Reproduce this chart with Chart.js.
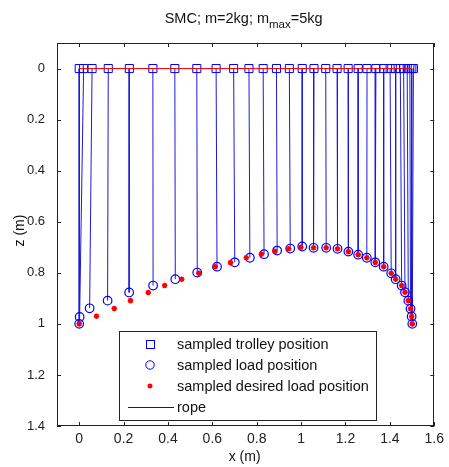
<!DOCTYPE html>
<html><head><meta charset="utf-8">
<script src="https://cdn.jsdelivr.net/npm/chart.js@4.4.1/dist/chart.umd.min.js"></script>
<style>html,body{margin:0;padding:0;background:#fff;}canvas{display:block;}</style>
</head><body>
<canvas id="c" width="449" height="467"></canvas>
<script>
// ---- data ----
const trolleyX = [0, 0.02, 0.058, 0.131, 0.226, 0.332, 0.431, 0.530, 0.617, 0.696, 0.765, 0.829, 0.889, 0.947, 1.005, 1.058, 1.111, 1.162, 1.212, 1.257, 1.297, 1.337, 1.372, 1.401, 1.426, 1.447, 1.462, 1.478, 1.490, 1.499, 1.506];
const loadX = [0, 0.002, 0.047, 0.128, 0.225, 0.333, 0.433, 0.532, 0.621, 0.701, 0.769, 0.833, 0.892, 0.951, 1.005, 1.056, 1.113, 1.164, 1.213, 1.257, 1.296, 1.334, 1.372, 1.406, 1.426, 1.453, 1.468, 1.483, 1.493, 1.498, 1.501];
const loadZ = [1.0, 0.973, 0.939, 0.909, 0.877, 0.850, 0.825, 0.799, 0.776, 0.759, 0.741, 0.727, 0.713, 0.705, 0.697, 0.702, 0.702, 0.706, 0.717, 0.729, 0.741, 0.759, 0.776, 0.802, 0.825, 0.850, 0.876, 0.909, 0.941, 0.971, 1.0];
const desiredX = [0, 0.078, 0.158, 0.231, 0.311, 0.385, 0.462, 0.539, 0.613, 0.682, 0.753, 0.821, 0.882, 0.944, 0.999, 1.056, 1.113, 1.164, 1.213, 1.257, 1.296, 1.334, 1.372, 1.406, 1.426, 1.453, 1.468, 1.483, 1.493, 1.498, 1.501];
const desiredZ = [1.0, 0.970, 0.940, 0.909, 0.877, 0.850, 0.825, 0.802, 0.776, 0.760, 0.741, 0.727, 0.716, 0.706, 0.700, 0.702, 0.702, 0.706, 0.717, 0.729, 0.741, 0.759, 0.776, 0.802, 0.825, 0.850, 0.876, 0.909, 0.941, 0.971, 1.0];
const railX = [0, 1.5];
const railZ = [0, 0];
const xTicks = [0, 0.2, 0.4, 0.6, 0.8, 1, 1.2, 1.4, 1.6];
const zTicks = [0, 0.2, 0.4, 0.6, 0.8, 1, 1.2, 1.4];
const legendLabels = ['sampled trolley position', 'sampled load position', 'sampled desired load position', 'rope'];
const titleParts = ['SMC; m=2kg; m', 'max', '=5kg'];
const xTitle = 'x (m)';
const zTitle = 'z (m)';

const FONT = '"Liberation Sans", Arial, sans-serif';
const BLUE = '#0000ff';
const ROPE = '#1a1ad8';
const RED = '#ff0000';

function pts(xs, ys) { return xs.map((x, i) => ({x: x, y: ys[i]})); }
const ropeData = [];
trolleyX.forEach((tx, i) => {
  ropeData.push({x: tx, y: 0});
  ropeData.push({x: loadX[i], y: loadZ[i]});
  ropeData.push({x: tx, y: null});
});

function fmt(v) { return String(Math.round(v * 10) / 10); }

const decor = {
  id: 'decor',
  afterDraw(chart) {
    const ctx = chart.ctx, a = chart.chartArea, xs = chart.scales.x, ys = chart.scales.y;
    ctx.save();
    // frame
    ctx.strokeStyle = '#222';
    ctx.lineWidth = 1;
    ctx.strokeRect(Math.round(a.left) + 0.5, Math.round(a.top) + 0.5, Math.round(a.right - a.left) - 1, Math.round(a.bottom - a.top) - 1);
    ctx.beginPath();
    xTicks.forEach(v => {
      const p = Math.round(xs.getPixelForValue(v)) + 0.5;
      ctx.moveTo(p, a.bottom); ctx.lineTo(p, a.bottom - 4);
      ctx.moveTo(p, a.top); ctx.lineTo(p, a.top + 4);
    });
    zTicks.forEach(v => {
      const p = Math.round(ys.getPixelForValue(v)) + 0.5;
      ctx.moveTo(a.left, p); ctx.lineTo(a.left + 4, p);
      ctx.moveTo(a.right, p); ctx.lineTo(a.right - 4, p);
    });
    ctx.stroke();

    // title with subscript
    ctx.fillStyle = '#111';
    ctx.textBaseline = 'alphabetic';
    ctx.textAlign = 'left';
    const f1 = '14.5px ' + FONT, f2 = '11.5px ' + FONT;
    ctx.font = f1; const w1 = ctx.measureText(titleParts[0]).width; const w3 = ctx.measureText(titleParts[2]).width;
    ctx.font = f2; const w2 = ctx.measureText(titleParts[1]).width;
    const cx = (a.left + a.right) / 2;
    let tx = cx - 2 - (w1 + w2 + w3) / 2;
    ctx.font = f1; ctx.fillText(titleParts[0], tx, 23); tx += w1;
    ctx.font = f2; ctx.fillText(titleParts[1], tx, 28); tx += w2;
    ctx.font = f1; ctx.fillText(titleParts[2], tx, 23);

    // axis titles
    ctx.font = '14px ' + FONT;
    ctx.textAlign = 'center';
    ctx.textBaseline = 'middle';
    ctx.fillText(xTitle, cx - 1, 457);
    ctx.save();
    ctx.translate(20, (a.top + a.bottom) / 2 - 4);
    ctx.rotate(-Math.PI / 2);
    ctx.fillText(zTitle, 0, 0);
    ctx.restore();

    // legend
    const L = 119.5, T = 331.5, W = 257, H = 89;
    ctx.fillStyle = '#fff';
    ctx.fillRect(L, T, W, H);
    ctx.strokeStyle = '#222';
    ctx.lineWidth = 1;
    ctx.strokeRect(L, T, W, H);
    const rows = [344, 365, 386, 407];
    const mx = 150;
    // square
    ctx.strokeStyle = BLUE; ctx.lineWidth = 1;
    ctx.strokeRect(mx - 3.5, rows[0] - 3.5, 8, 8);
    // circle
    ctx.beginPath(); ctx.arc(mx, rows[1], 4.2, 0, Math.PI * 2); ctx.stroke();
    // star
    ctx.strokeStyle = RED; ctx.lineWidth = 1.5;
    ctx.beginPath();
    const r = 2.6;
    ctx.moveTo(mx - r, rows[2]); ctx.lineTo(mx + r, rows[2]);
    ctx.moveTo(mx, rows[2] - r); ctx.lineTo(mx, rows[2] + r);
    const d = r * 0.707;
    ctx.moveTo(mx - d, rows[2] - d); ctx.lineTo(mx + d, rows[2] + d);
    ctx.moveTo(mx - d, rows[2] + d); ctx.lineTo(mx + d, rows[2] - d);
    ctx.stroke();
    // line
    ctx.strokeStyle = BLUE; ctx.lineWidth = 1;
    ctx.beginPath(); ctx.moveTo(128, rows[3] + 0.5); ctx.lineTo(174, rows[3] + 0.5); ctx.stroke();
    ctx.fillStyle = '#111';
    ctx.textAlign = 'left';
    ctx.textBaseline = 'middle';
    ctx.font = '14.5px ' + FONT;
    legendLabels.forEach((t, i) => ctx.fillText(t, 177, rows[i] + 1));
    ctx.restore();
  }
};

new Chart(document.getElementById('c'), {
  type: 'scatter',
  data: {
    datasets: [
      { label: 'rope', data: ropeData, showLine: true, spanGaps: false, borderColor: ROPE, borderWidth: 1, pointRadius: 0, order: 5 },
      { label: 'trolley', data: trolleyX.map(x => ({x: x, y: 0})), pointStyle: 'rect', pointRadius: 5.7, borderColor: BLUE, backgroundColor: 'rgba(0,0,0,0)', pointBorderWidth: 1, order: 3 },
      { label: 'rail', data: pts(railX, railZ), showLine: true, borderColor: RED, borderWidth: 1, pointRadius: 0, order: 1 },
      { label: 'load', data: pts(loadX, loadZ), pointStyle: 'circle', pointRadius: 4.3, borderColor: BLUE, backgroundColor: 'rgba(0,0,0,0)', pointBorderWidth: 1.2, order: 4 },
      { label: 'desired', data: pts(desiredX, desiredZ), pointStyle: 'star', pointRadius: 2.8, borderColor: RED, backgroundColor: RED, pointBorderWidth: 1.6, order: 2 }
    ]
  },
  options: {
    responsive: false,
    animation: false,
    devicePixelRatio: 1,
    layout: { padding: { top: 43, right: 10, left: 0, bottom: 0 } },
    plugins: { legend: { display: false }, tooltip: { enabled: false }, title: { display: false } },
    scales: {
      x: {
        type: 'linear', min: -0.1, max: 1.6,
        grid: { display: false, drawTicks: false },
        border: { display: false },
        afterBuildTicks: s => { s.ticks = xTicks.map(v => ({value: v})); },
        afterFit: s => { s.height = 41; },
        ticks: { callback: v => fmt(v), font: { family: FONT, size: 14 }, color: '#222', padding: 5, maxRotation: 0, autoSkip: false }
      },
      y: {
        type: 'linear', min: -0.1, max: 1.4, reverse: true,
        grid: { display: false, drawTicks: false },
        border: { display: false },
        afterBuildTicks: s => { s.ticks = zTicks.map(v => ({value: v})); },
        afterFit: s => { s.width = 57; },
        ticks: { callback: v => fmt(v), font: { family: FONT, size: 13 }, color: '#222', padding: 12, autoSkip: false }
      }
    }
  },
  plugins: [decor]
});
</script>
</body></html>
